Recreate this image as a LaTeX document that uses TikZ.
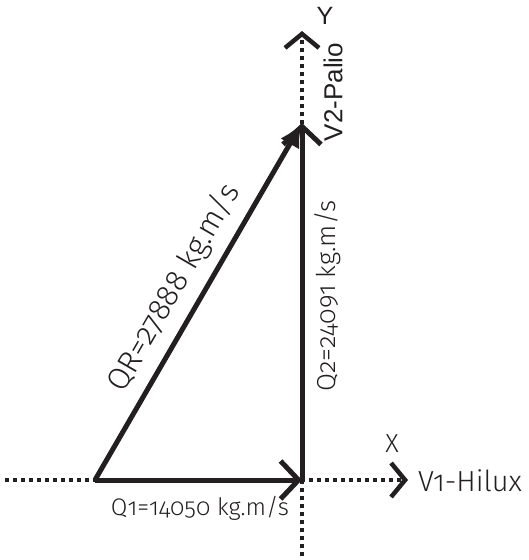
\documentclass[tikz,border=0pt]{standalone}
\usepackage{fontspec}
\setmainfont{Fira Sans}[UprightFont=* Light,Numbers=OldStyle]
\newfontfamily\arialf{Liberation Sans}
\usetikzlibrary{arrows.meta}
\definecolor{ink}{RGB}{35,31,32}
\tikzset{
  axisline/.style={ink,line width=4pt,dash pattern=on 4pt off 4pt},
  vecline/.style={ink,line width=5pt},
  chev/.style={-{Straight Barb[length=14pt,width=34pt,line width=4.5pt]}},
  lbl/.style={ink,inner sep=0pt},
}
\begin{document}
\begin{tikzpicture}[x=1pt,y=-1pt]
\useasboundingbox (0,0) rectangle (529,560);
\coordinate (O) at (302,480);
\coordinate (A) at (95,480);
\coordinate (B) at (302,123);
\coordinate (xs) at (5,480);
\coordinate (xe) at (408,480);
\coordinate (ys) at (302,556);
\coordinate (ye) at (302,31);
% axes
\draw[axisline,chev] (xs) -- (xe);
\draw[axisline,chev] (ys) -- (ye);
% vectors
\draw[vecline,-{Straight Barb[length=18pt,width=38pt,line width=5pt]}] (A) -- (O);
\draw[vecline,-{Straight Barb[length=18pt,width=38pt,line width=5pt]}] (O) -- (B);
\draw[vecline,-{Latex[length=24pt,width=22pt]}] (A) -- (B);
% labels
\node[lbl,font=\fontsize{24}{24}\selectfont] (q1) at (200,508) {Q1=14050 kg.m/s};
\node[lbl,rotate=90,font=\fontsize{26}{26}\selectfont] (q2) at (328,296) {Q2=24091 kg.m/s};
\node[lbl,rotate=59.9,font=\fontsize{31}{31}\selectfont] (qr) at (174,288) {QR=27888 kg.m/s};
\node[lbl,font=\fontsize{26}{26}\selectfont] (x) at (392,444) {X};
\node[lbl,font=\fontsize{29}{29}\selectfont] (v1) at (470,481) {V1-Hilux};
\node[lbl,font=\arialf\fontsize{25}{25}\selectfont] (y) at (325,16) {Y};
\node[lbl,rotate=90,font=\arialf\fontsize{26}{26}\selectfont] (v2) at (333,92) {V2-Palio};
\end{tikzpicture}
\end{document}
